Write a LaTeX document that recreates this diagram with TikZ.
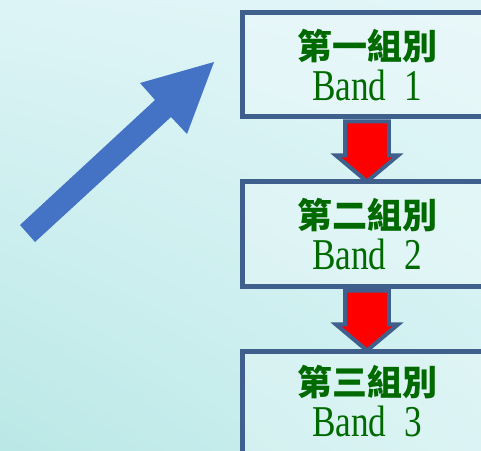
\documentclass[tikz,border=0pt]{standalone}
\usepackage{fontspec}
\usepackage{tikz}
\usetikzlibrary{positioning, shapes.arrows, shadings}
\newfontfamily\cjk{Noto Sans CJK TC}
\newfontfamily\bandfont[FakeStretch=0.8]{Liberation Serif}
\definecolor{boxline}{HTML}{3F5F8C}
\definecolor{bandgreen}{HTML}{006A00}
\definecolor{bigarrow}{HTML}{4472C4}
\definecolor{bgtl}{HTML}{DDF4F6}
\definecolor{bgtr}{HTML}{E2F6F8}
\definecolor{bgbl}{HTML}{BAE8E6}
\definecolor{bgbr}{HTML}{D0F0F1}

\begin{document}
\begin{tikzpicture}[x=1pt, y=1pt]
\tikzstyle{band}=[rectangle, minimum width = 250pt, minimum height = 104pt, line width = 5pt, draw = boxline, fill = white, fill opacity = 0.25, text opacity = 1, align = center, text = bandgreen, node distance = 60pt]
\tikzstyle{down}=[single arrow, rotate = -90, anchor = tail, minimum height = 60pt, minimum width = 62pt, inner sep = 15pt, single arrow tip angle = 100, line width = 4pt, draw = boxline, fill = red]
\useasboundingbox (0,0) rectangle (481,450);
\clip (0,0) rectangle (481,450);
\shade[upper left = bgtl, upper right = bgtr, lower left = bgbl, lower right = bgbr] (0,0) rectangle (481,450);
% blue arrow
\fill[bigarrow] (20,225) -- (155,350) -- (140,367) -- (214,388) -- (187,316) -- (171,333) -- (35,208) -- cycle;
\node[band] (b1) at (367,385) {{\cjk\bfseries\fontsize{35}{38}\selectfont 第一組別}\\[6pt]{\bandfont\fontsize{44}{44}\selectfont Band~~1}};
\node[band] (b2) [below=of b1] {{\cjk\bfseries\fontsize{35}{38}\selectfont 第二組別}\\[6pt]{\bandfont\fontsize{44}{44}\selectfont Band~~2}};
\node[band, minimum height = 112pt] (b3) [below=60pt of b2] {{\cjk\bfseries\fontsize{35}{38}\selectfont 第三組別}\\[6pt]{\bandfont\fontsize{44}{44}\selectfont Band~~3}\\[0pt]};
\node[down] (a12) at (b1.south) {};
\node[down] (a23) at (b2.south) {};
\end{tikzpicture}
\end{document}
